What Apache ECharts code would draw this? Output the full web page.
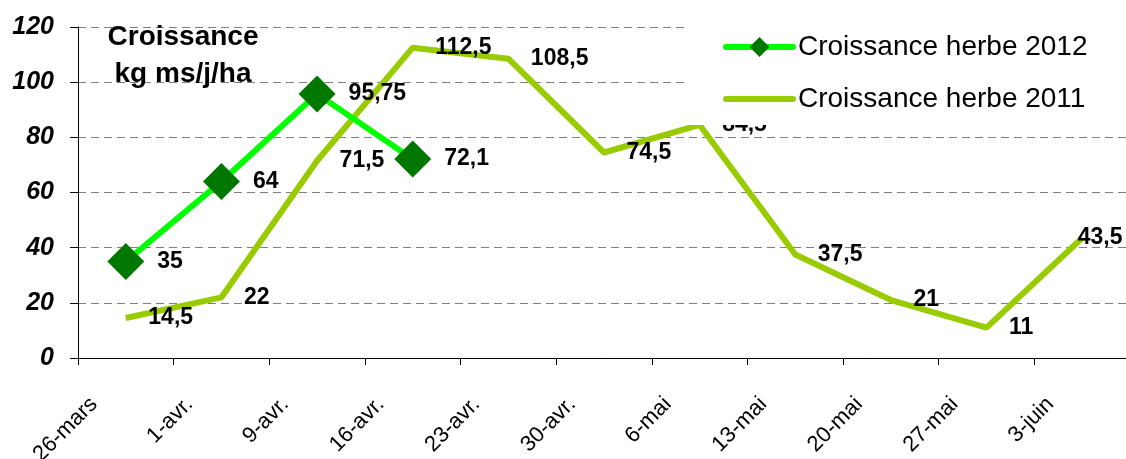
<!DOCTYPE html>
<html>
<head>
<meta charset="utf-8">
<script src="https://cdn.jsdelivr.net/npm/echarts@6/dist/echarts.min.js"></script>
<style>
html,body{margin:0;padding:0;background:#fff;}
#chart{width:1126px;height:459px;}
</style>
</head>
<body>
<div id="chart"></div>
<script>
const categories = ['26-mars','1-avr.','9-avr.','16-avr.','23-avr.','30-avr.','6-mai','13-mai','20-mai','27-mai','3-juin'];
const herbe2012 = [35, 64, 95.75, 72.1];
const herbe2011 = [14.5, 22, 71.5, 112.5, 108.5, 74.5, 84.5, 37.5, 21, 11, 43.5];
const seriesNames = ['Croissance herbe 2012', 'Croissance herbe 2011'];
const yTicks = {min: 0, max: 120, interval: 20};
const titleLines = ['Croissance', 'kg ms/j/ha'];

const fmt = v => String(v).replace('.', ',');
const FONT = 'Liberation Sans, Arial, sans-serif';

const chart = echarts.init(document.getElementById('chart'));
chart.setOption({
  animation: false,
  backgroundColor: '#fff',
  grid: {left: 78, top: 27, width: 1052, bottom: 101, containLabel: false, outerBoundsMode: 'none'},
  xAxis: {
    type: 'category',
    data: categories,
    boundaryGap: true,
    axisLine: {show: true, lineStyle: {color: '#000', width: 1}},
    axisTick: {show: true, length: 7, lineStyle: {color: '#000'}},
    axisLabel: {rotate: 45, fontSize: 22, color: '#000', fontFamily: FONT, margin: 11, padding: [0, 45, 0, 0], interval: 0, hideOverlap: false}
  },
  yAxis: {
    type: 'value',
    min: yTicks.min, max: yTicks.max, interval: yTicks.interval,
    axisLine: {show: true, lineStyle: {color: '#000', width: 1}},
    axisTick: {show: true, length: 8, lineStyle: {color: '#000'}},
    axisLabel: {fontSize: 25, fontWeight: 'bold', fontStyle: 'italic', color: '#000', fontFamily: FONT, margin: 24},
    splitLine: {show: true, lineStyle: {color: '#7f7f7f', type: [8, 5], width: 1}}
  },
  legend: {
    orient: 'vertical',
    left: 688, top: 19,
    padding: [14, 40, 12, 35],
    backgroundColor: '#fff',
    itemGap: 24,
    itemWidth: 67, itemHeight: 25,
    lineStyle: {width: 'inherit', cap: 'round'},
    textStyle: {fontSize: 28, color: '#000', fontFamily: FONT},
    data: [
      {name: seriesNames[0]},
      {name: seriesNames[1], itemStyle: {color: 'rgba(0,0,0,0)', borderWidth: 0, opacity: 0}}
    ]
  },
  graphic: [
    {type: 'text', x: 183, y: 37, z: 10, style: {text: titleLines[0], textAlign: 'center', textVerticalAlign: 'middle', font: 'bold 28px ' + FONT, fill: '#000'}},
    {type: 'text', x: 183, y: 74, z: 10, style: {text: titleLines[1], textAlign: 'center', textVerticalAlign: 'middle', font: 'bold 28px ' + FONT, fill: '#000'}}
  ],
  series: [
    {
      name: seriesNames[1],
      type: 'line',
      data: herbe2011.map((v, i) => i === herbe2011.length - 1 ? {value: v, label: {distance: -5}} : v),
      symbol: 'circle', symbolSize: 1,
      itemStyle: {color: '#99CC00'},
      lineStyle: {color: '#99CC00', width: 6},
      z: 2,
      label: {show: true, position: 'right', distance: 22, formatter: p => fmt(p.value), fontSize: 23, fontWeight: 'bold', color: '#000', fontFamily: FONT}
    },
    {
      name: seriesNames[0],
      type: 'line',
      data: herbe2012,
      symbol: 'diamond', symbolSize: 37,
      itemStyle: {color: '#007800'},
      lineStyle: {color: '#00FF00', width: 6},
      z: 3,
      label: {show: true, position: 'right', distance: 13, formatter: p => fmt(p.value), fontSize: 23, fontWeight: 'bold', color: '#000', fontFamily: FONT}
    }
  ]
});
</script>
</body>
</html>
